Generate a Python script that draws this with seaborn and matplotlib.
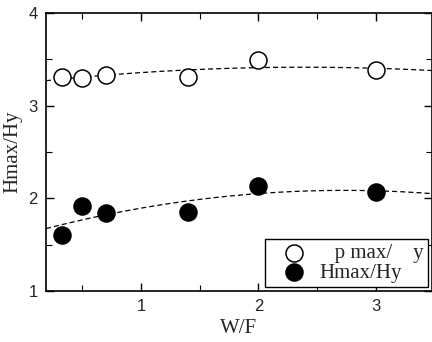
import numpy as np
import pandas as pd
import matplotlib
matplotlib.use("Agg")
import matplotlib.pyplot as plt
from matplotlib.ticker import MultipleLocator
import seaborn as sns

# data
wf = [0.33, 0.5, 0.7, 1.4, 2.0, 3.0]
phi_ratio = [3.31, 3.30, 3.33, 3.31, 3.49, 3.385]
h_ratio = [1.605, 1.92, 1.84, 1.85, 2.13, 2.07]

sns.set_style("ticks")
plt.rcParams['font.family'] = ['Liberation Sans', 'DejaVu Sans']
serif = ['Liberation Serif', 'DejaVu Serif']

fig = plt.figure(figsize=(4.32, 3.42), dpi=100)
ax = fig.add_axes([0.1065, 0.149, 0.8935, 0.813])

# quadratic trend lines fitted to each series
xs = np.linspace(0.19, 3.48, 200)
fit_phi = np.polyval(np.polyfit(wf, phi_ratio, 2), xs)
fit_h = np.polyval(np.polyfit(wf, h_ratio, 2), xs)
sns.lineplot(x=xs, y=fit_phi, ax=ax, color='black', lw=0.9, linestyle=(0, (4, 2.5)))
sns.lineplot(x=xs, y=fit_h, ax=ax, color='black', lw=0.9, linestyle=(0, (4, 2.5)))

df = pd.DataFrame({'wf': wf, 'phi': phi_ratio, 'h': h_ratio})
sns.scatterplot(data=df, x='wf', y='phi', ax=ax, s=150, facecolor='white',
                edgecolor='black', linewidth=1.1, label='   p max/    y', zorder=5)
sns.scatterplot(data=df, x='wf', y='h', ax=ax, s=150, color='black',
                edgecolor='black', linewidth=1.1, label='Hmax/Hy', zorder=5)

ax.set_xlim(0.19, 3.48)
ax.set_ylim(1, 4)
ax.xaxis.set_major_locator(MultipleLocator(1))
ax.xaxis.set_minor_locator(MultipleLocator(0.5))
ax.yaxis.set_major_locator(MultipleLocator(1))
ax.yaxis.set_minor_locator(MultipleLocator(0.5))
ax.tick_params(which='both', direction='in', top=True, right=True, color='black')
ax.tick_params(which='major', length=6, width=1, labelsize=12, pad=6)
ax.tick_params(which='minor', length=4, width=0.8)
for sp in ax.spines.values():
    sp.set_color('black')
    sp.set_linewidth(1.2)

ax.set_xlabel('W/F', fontsize=15, family=serif, labelpad=3)
ax.set_ylabel('Hmax/Hy', fontsize=15, family=serif, labelpad=4)

leg = ax.legend(loc='lower right', prop={'family': serif, 'size': 15}, frameon=True,
                fancybox=False, edgecolor='black', borderaxespad=0.2,
                handlelength=2.4, handletextpad=0.0, labelspacing=0.0, borderpad=0.2)
leg.get_frame().set_linewidth(1.0)
leg.get_frame().set_alpha(1)

fig.savefig('out.png', dpi=100)
